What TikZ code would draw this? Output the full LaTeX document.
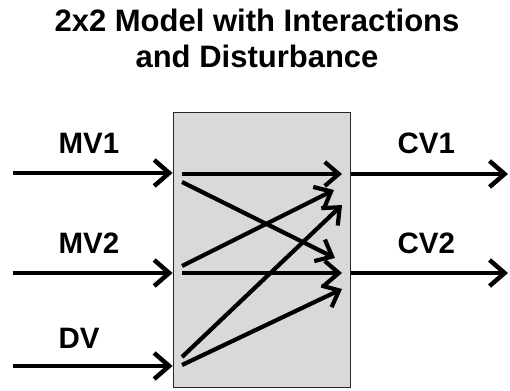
\documentclass[tikz,border=0pt]{standalone}
\usepackage{fontspec}
\setmainfont{Liberation Sans}
\usetikzlibrary{arrows.meta}

\tikzset{
  sig/.style={line width=4.5pt, -{Straight Barb[length=15pt, width=26pt, line width=4.5pt]}},
  path/.style={line width=4.2pt, -{Straight Barb[length=14pt, width=24pt, line width=4.2pt]}},
  lbl/.style={anchor=base west, font=\fontsize{29.5}{30}\selectfont\bfseries},
  ttl/.style={anchor=base, font=\fontsize{31}{36}\selectfont\bfseries}
}

\begin{document}
\begin{tikzpicture}[x=1pt, y=-1pt]
\useasboundingbox (0,0) rectangle (510,390);
\node[ttl] (title1) at (257,32) {2x2 Model with Interactions};
\node[ttl] (title2) at (257,68) {and Disturbance};
\node[draw=black!85, line width=1.8pt, fill=gray!30, minimum width=177pt, minimum height=275pt, inner sep=0pt] (model) at (262,250) {};
% inputs
\coordinate (mv1) at (13,173);
\coordinate (mv2) at (13,273);
\coordinate (dv) at (13,366);
\node[lbl] (mv1-l) at (55,153) {MV1};
\node[lbl] (mv2-l) at (55,253) {MV2};
\node[lbl] (dv-l) at (55,348) {DV};
\draw[sig] (mv1) -- (mv1 -| model.west);
\draw[sig] (mv2) -- (mv2 -| model.west);
\draw[sig] (dv) -- (dv -| model.west);
% outputs
\coordinate (cv1) at (508,174);
\coordinate (cv2) at (508,273);
\node[lbl] (cv1-l) at (394,153) {CV1};
\node[lbl] (cv2-l) at (394,253) {CV2};
\draw[sig] (cv1 -| model.east) -- (cv1);
\draw[sig] (cv2 -| model.east) -- (cv2);
% interactions
\coordinate (a1) at (182,174); \coordinate (a2) at (342,174);
\coordinate (b1) at (182,182); \coordinate (b2) at (335,258);
\coordinate (c1) at (182,266); \coordinate (c2) at (334,190);
\coordinate (d1) at (182,273); \coordinate (d2) at (342,273);
\coordinate (e1) at (182,357); \coordinate (e2) at (342,205);
\coordinate (f1) at (182,365); \coordinate (f2) at (342,289);
\draw[path] (a1) -- (a2);
\draw[path] (b1) -- (b2);
\draw[path] (c1) -- (c2);
\draw[path] (d1) -- (d2);
\draw[path] (e1) -- (e2);
\draw[path] (f1) -- (f2);
\end{tikzpicture}
\end{document}
